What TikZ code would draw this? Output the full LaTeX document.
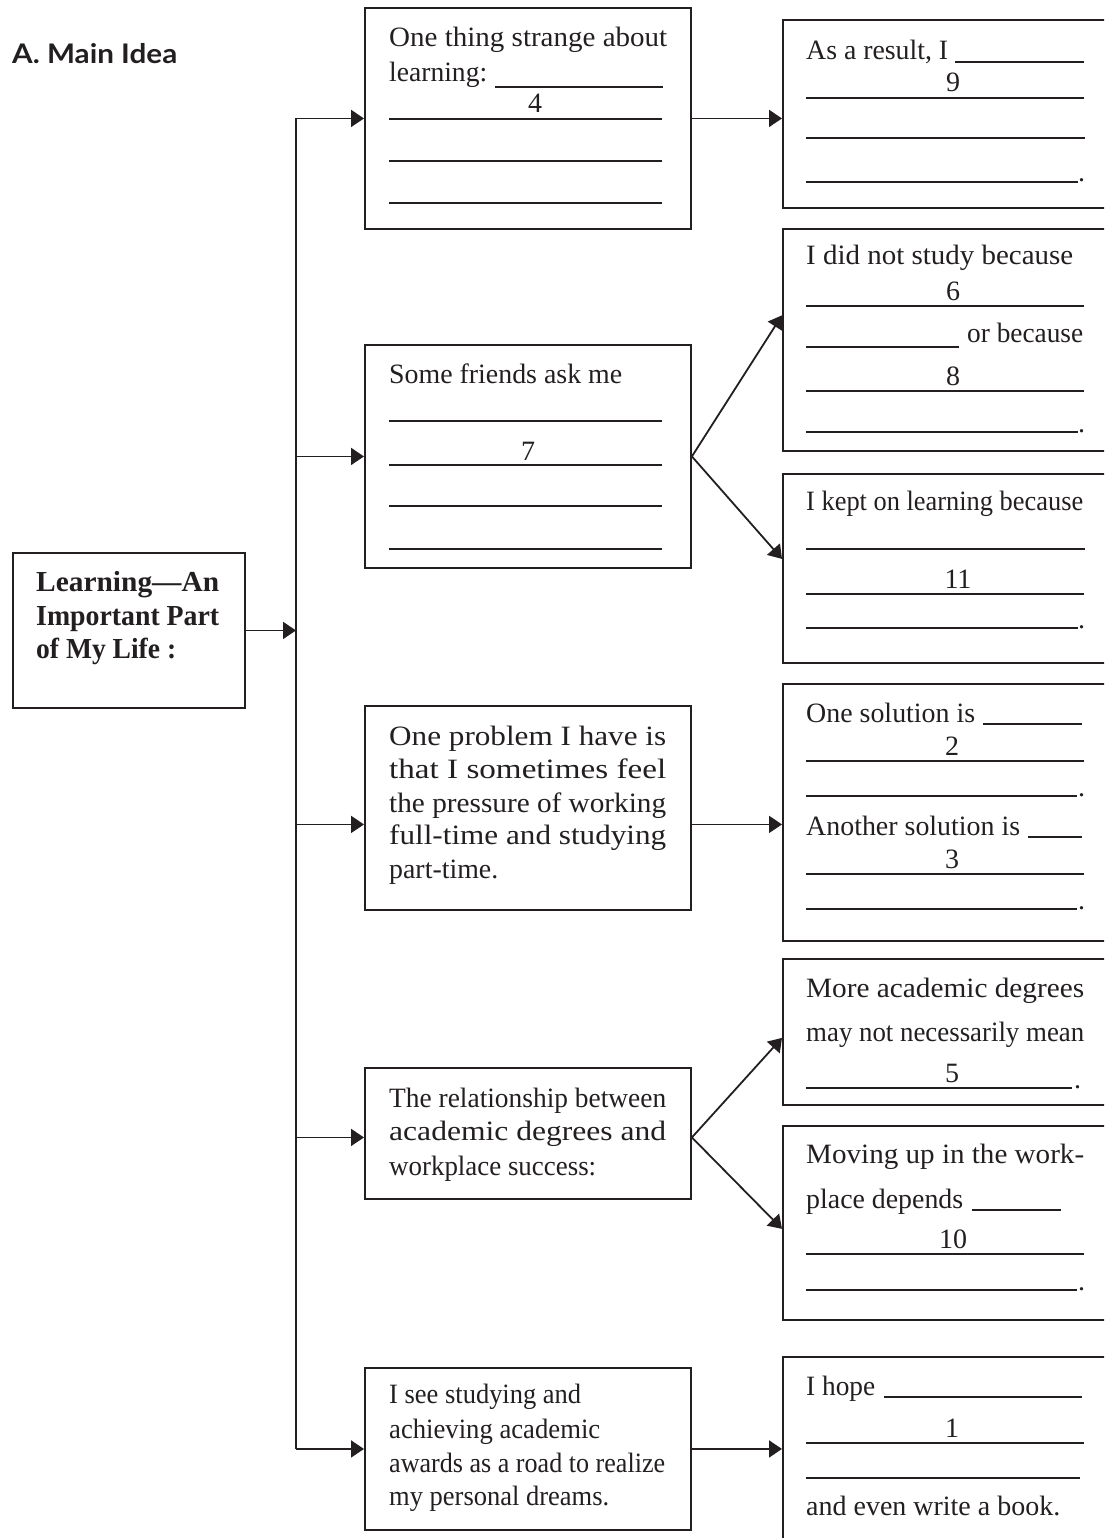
\documentclass[tikz,border=0pt]{standalone}
\usepackage{fontspec}
\setmainfont{Liberation Serif}
\newfontfamily\headfont{Lato}
\usetikzlibrary{arrows.meta,calc}
\definecolor{ink}{RGB}{35,31,32}
\newcommand\fitw[2]{\resizebox{#1pt}{\height}{#2}}
\begin{document}
\begin{tikzpicture}[x=1pt,y=-1pt,
  box/.style={draw=ink, line width=1.9pt, inner sep=0pt, anchor=north west},
  txt/.style={anchor=base west, inner sep=0pt, text=ink, font=\fontsize{28}{32}\selectfont},
  btxt/.style={anchor=base west, inner sep=0pt, text=ink, font=\bfseries\fontsize{29}{33}\selectfont},
  num/.style={anchor=base, inner sep=0pt, text=ink, font=\fontsize{28}{32}\selectfont},
  blank/.style={draw=ink, line width=1.8pt},
  conn/.style={draw=ink, line width=1.8pt},
  arr/.style={draw=ink, fill=ink, line width=1.8pt, -{Triangle[length=13pt,width=17pt]}}]
\useasboundingbox (0,0) rectangle (1104,1538);
\clip (0,0) rectangle (1104,1538);

% title
\node[anchor=base west, inner sep=0pt, text=ink, font=\headfont\bfseries\fontsize{27}{31}\selectfont] (title) at (12,64) {\fitw{165}{A. Main Idea}};

% boxes
\node[box, minimum width=232, minimum height=155] (m) at (12,552) {};
\node[box, minimum width=326, minimum height=221] (b1) at (364,7) {};
\node[box, minimum width=326, minimum height=223] (b2) at (364,344) {};
\node[box, minimum width=326, minimum height=204] (b3) at (364,705) {};
\node[box, minimum width=326, minimum height=131] (b4) at (364,1067) {};
\node[box, minimum width=326, minimum height=162] (b5) at (364,1367) {};
\node[box, minimum width=330, minimum height=188] (r1) at (782,19) {};
\node[box, minimum width=330, minimum height=222] (r2) at (782,228) {};
\node[box, minimum width=330, minimum height=189] (r3) at (782,473) {};
\node[box, minimum width=330, minimum height=257] (r4) at (782,683) {};
\node[box, minimum width=330, minimum height=146] (r5) at (782,958) {};
\node[box, minimum width=330, minimum height=194] (r6) at (782,1125) {};
\node[box, minimum width=330, minimum height=189] (r7) at (782,1356) {};

% main box text
\node[btxt] (m1) at (36,591) {\fitw{183}{Learning—An}};
\node[btxt] (m2) at (36,625) {\fitw{183}{Important Part}};
\node[btxt] (m3) at (36,658) {\fitw{140}{of My Life :}};

% box 1
\node[txt] (b1a) at (389,47) {\fitw{278}{One thing strange about}};
\node[txt] (b1b) at (389,82) {\fitw{98}{learning:}};
\draw[blank] (495,87) -- (663,87);
\node[num] (n4) at (535,113) {4};
\draw[blank] (389,119) -- (662,119);
\draw[blank] (389,161) -- (662,161);
\draw[blank] (389,203) -- (662,203);

% box 2
\node[txt] (b2a) at (389,383) {\fitw{233}{Some friends ask me}};
\draw[blank] (389,421) -- (662,421);
\node[num] (n7) at (528,460) {7};
\draw[blank] (389,465) -- (662,465);
\draw[blank] (389,506) -- (662,506);
\draw[blank] (389,549) -- (662,549);

% box 3
\node[txt] (b3a) at (389,745) {\fitw{277}{One problem I have is}};
\node[txt] (b3b) at (389,778) {\fitw{277}{that I sometimes feel}};
\node[txt] (b3c) at (389,812) {\fitw{277}{the pressure of working}};
\node[txt] (b3d) at (389,844) {\fitw{277}{full-time and studying}};
\node[txt] (b3e) at (389,878) {\fitw{109}{part-time.}};

% box 4
\node[txt] (b4a) at (389,1107) {\fitw{277}{The relationship between}};
\node[txt] (b4b) at (389,1140) {\fitw{277}{academic degrees and}};
\node[txt] (b4c) at (389,1175) {\fitw{207}{workplace success:}};

% box 5
\node[txt] (b5a) at (389,1403) {\fitw{192}{I see studying and}};
\node[txt] (b5b) at (389,1438) {\fitw{211}{achieving academic}};
\node[txt] (b5c) at (389,1472) {\fitw{276}{awards as a road to realize}};
\node[txt] (b5d) at (389,1505) {\fitw{220}{my personal dreams.}};

% r1
\node[txt] (r1a) at (806,60) {\fitw{142}{As a result, I}};
\draw[blank] (955,62) -- (1084,62);
\node[num] (n9) at (953,92) {9};
\draw[blank] (806,98) -- (1084,98);
\draw[blank] (806,138) -- (1085,138);
\draw[blank] (806,182) -- (1078,182);
\node[txt] (r1d) at (1078,182) {.};

% r2
\node[txt] (r2a) at (806,265) {\fitw{267}{I did not study because}};
\node[num] (n6) at (953,300) {6};
\draw[blank] (806,306) -- (1084,306);
\draw[blank] (806,347) -- (959,347);
\node[txt] (r2b) at (967,342) {\fitw{116}{or because}};
\node[num] (n8) at (953,385) {8};
\draw[blank] (806,391) -- (1084,391);
\draw[blank] (806,432) -- (1078,432);
\node[txt] (r2d) at (1078,432) {.};

% r3
\node[txt] (r3a) at (806,510) {\fitw{277}{I kept on learning because}};
\draw[blank] (806,549) -- (1085,549);
\node[num] (n11) at (958,588) {11};
\draw[blank] (806,594) -- (1084,594);
\draw[blank] (806,628) -- (1078,628);
\node[txt] (r3d) at (1078,628) {.};

% r4
\node[txt] (r4a) at (806,722) {\fitw{169}{One solution is}};
\draw[blank] (983,724) -- (1082,724);
\node[num] (n2) at (952,755) {2};
\draw[blank] (806,761) -- (1084,761);
\draw[blank] (806,796) -- (1077,796);
\node[txt] (r4d) at (1078,796) {.};
\node[txt] (r4b) at (806,835) {\fitw{214}{Another solution is}};
\draw[blank] (1028,837) -- (1082,837);
\node[num] (n3) at (952,868) {3};
\draw[blank] (806,874) -- (1084,874);
\draw[blank] (806,909) -- (1077,909);
\node[txt] (r4e) at (1078,909) {.};

% r5
\node[txt] (r5a) at (806,997) {\fitw{278}{More academic degrees}};
\node[txt] (r5b) at (806,1041) {\fitw{278}{may not necessarily mean}};
\node[num] (n5) at (952,1082) {5};
\draw[blank] (806,1088) -- (1072,1088);
\node[txt] (r5d) at (1074,1088) {.};

% r6
\node[txt] (r6a) at (806,1163) {\fitw{278}{Moving up in the work-}};
\node[txt] (r6b) at (806,1208) {\fitw{157}{place depends}};
\draw[blank] (972,1210) -- (1061,1210);
\node[num] (n10) at (953,1248) {10};
\draw[blank] (806,1254) -- (1084,1254);
\draw[blank] (806,1290) -- (1077,1290);
\node[txt] (r6d) at (1078,1290) {.};

% r7
\node[txt] (r7a) at (806,1395) {\fitw{69}{I hope}};
\draw[blank] (884,1397) -- (1082,1397);
\node[num] (n1) at (952,1437) {1};
\draw[blank] (806,1443) -- (1084,1443);
\draw[blank] (806,1478) -- (1080,1478);
\node[txt] (r7b) at (806,1515) {\fitw{254}{and even write a book.}};

% connectors
\coordinate (tr) at (296,0);
\draw[conn] (b1.west -| tr) -- (b5.west -| tr);
\draw[arr] (m.east) -- (m.east -| tr);
\draw[arr] (b1.west -| tr) -- (b1.west);
\draw[arr] (b2.west -| tr) -- (b2.west);
\coordinate (b3in) at ($(b3.north west)!0.58!(b3.south west)$);
\coordinate (b3out) at ($(b3.north east)!0.58!(b3.south east)$);
\draw[arr] (b3in -| tr) -- (b3in);
\coordinate (b4in) at ($(b4.north west)!0.53!(b4.south west)$);
\coordinate (b4out) at ($(b4.north east)!0.53!(b4.south east)$);
\draw[arr] (b4in -| tr) -- (b4in);
\draw[arr] (b5.west -| tr) -- (b5.west);

\draw[arr] (b1.east) -- (b1.east -| r1.west);
\draw[arr] (b2.east) -- ($(r2.north west)!0.39!(r2.south west)$);
\draw[arr] (b2.east) -- ($(r3.north west)!0.45!(r3.south west)$);
\draw[arr] (b3out) -- (b3out -| r4.west);
\draw[arr] (b4out) -- ($(r5.north west)!0.54!(r5.south west)$);
\draw[arr] (b4out) -- ($(r6.north west)!0.53!(r6.south west)$);
\draw[arr] (b5.east) -- (b5.east -| r7.west);
\end{tikzpicture}
\end{document}
